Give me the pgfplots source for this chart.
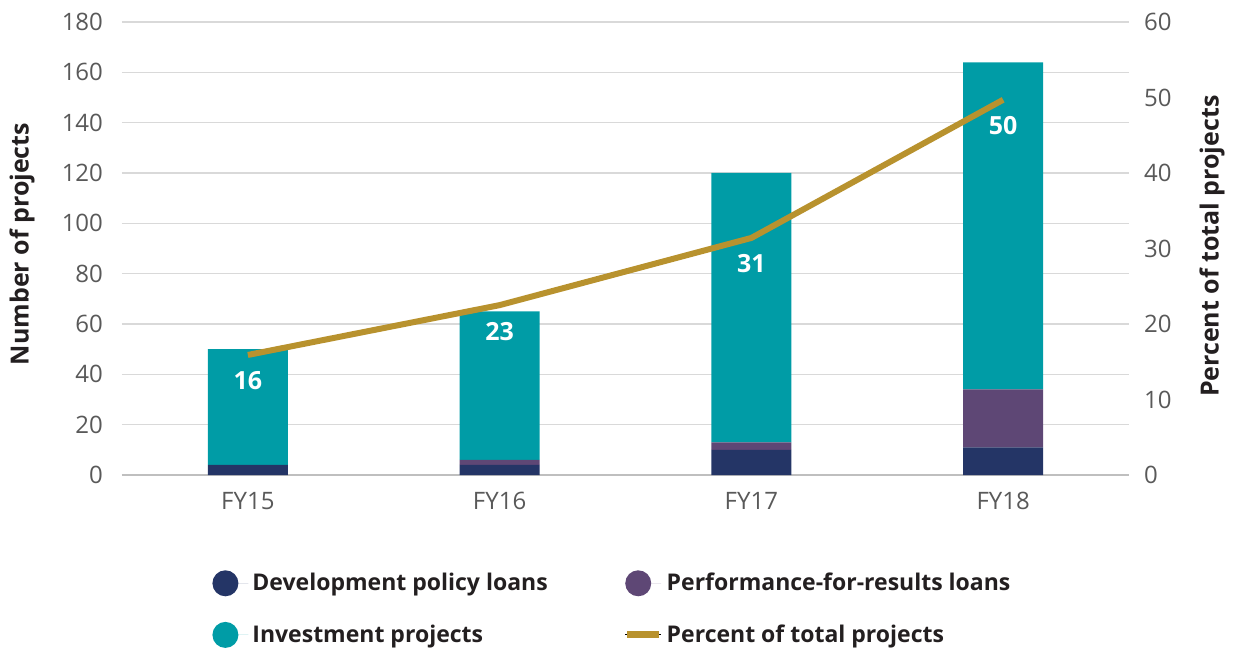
\documentclass[border=0pt]{standalone}
\usepackage{pgfplots}
\pgfplotsset{compat=1.18}
\usepackage{fontspec}
\setmainfont{Open Sans}
\definecolor{navy}{HTML}{243566}
\definecolor{plum}{HTML}{5E4775}
\definecolor{teal}{HTML}{009CA6}
\definecolor{gold}{HTML}{B8922E}
\definecolor{tickgray}{HTML}{595959}
\definecolor{txt}{HTML}{231F20}
\begin{document}
\begin{tikzpicture}
\begin{axis}[
  name=ax,
  scale only axis, width=503.5pt, height=226.5pt,
  xmin=-0.5, xmax=3.5, ymin=0, ymax=180,
  ybar stacked, bar width=40pt,
  xtick={0,1,2,3}, xticklabels={FY15,FY16,FY17,FY18},
  ytick={0,20,...,180},
  axis x line*=bottom, axis y line*=left,
  y axis line style={draw=none},
  x axis line style={draw=black!25, line width=1pt},
  major tick length=0pt,
  ymajorgrids, grid style={draw=black!15, line width=0.75pt},
  tick label style={font=\fontsize{12}{14}\selectfont, text=tickgray},
  /pgf/number format/assume math mode=true,
  yticklabel style={xshift=-6pt},
  xticklabel style={yshift=-5pt},
  ylabel={Number of projects},
  ylabel style={at={(axis description cs:-0.0993,0.51)}, anchor=center, rotate=0, font=\fontsize{12.5}{14}\bfseries, text=txt},
  legend columns=2,
  legend cell align=left,
  legend style={draw=none, fill=none, at={(axis description cs:0.0894,-0.2066)}, anchor=north west,
    font=\fontsize{11.5}{14}\bfseries, text=txt, inner sep=0pt,
    /tikz/every even column/.append style={column sep=36pt},
    /tikz/row sep=11.5pt},
]
\addplot[fill=navy, draw=none, legend image code/.code={\path (0pt,0pt) -- (18pt,0pt);\fill[navy] (6.5pt,0pt) circle (6.5pt);}]
  coordinates {(0,4) (1,4) (2,10) (3,11)};
\addlegendentry{Development policy loans}
\addplot[fill=plum, draw=none, legend image code/.code={\path (0pt,0pt) -- (18pt,0pt);\fill[plum] (6.5pt,0pt) circle (6.5pt);}]
  coordinates {(0,0) (1,2) (2,3) (3,23)};
\addlegendentry{Performance-for-results loans}
\addplot[fill=teal, draw=none, legend image code/.code={\path (0pt,0pt) -- (18pt,0pt);\fill[teal] (6.5pt,0pt) circle (6.5pt);}]
  coordinates {(0,46) (1,59) (2,107) (3,130)};
\addlegendentry{Investment projects}
\addlegendimage{legend image code/.code={\path (0pt,0pt) -- (18pt,0pt);\draw[gold, line width=3.5pt] (1pt,0pt) -- (17pt,0pt);}}
\addlegendentry{Percent of total projects}
\end{axis}
\begin{axis}[
  scale only axis, width=503.5pt, height=226.5pt,
  xmin=-0.5, xmax=3.5, ymin=0, ymax=60,
  ytick={0,10,...,60},
  axis x line=none, axis y line*=right,
  y axis line style={draw=none},
  major tick length=0pt,
  tick label style={font=\fontsize{12}{14}\selectfont, text=tickgray},
  /pgf/number format/assume math mode=true,
  yticklabel style={xshift=4pt},
  ylabel={Percent of total projects},
  ylabel style={at={(axis description cs:1.0824,0.505)}, anchor=center, rotate=0, font=\fontsize{12.5}{14}\bfseries, text=txt},
]
\addplot[gold, line width=3pt, mark=none,
  nodes near coords, point meta=explicit symbolic,
  every node near coord/.append style={anchor=center, yshift=-13pt, text=white, font=\fontsize{12.5}{14}\bfseries}]
  coordinates {(0,15.9) [16] (1,22.5) [23] (2,31.4) [31] (3,49.7) [50]};
\end{axis}
\pgfresetboundingbox
\path ([shift={(-61pt,-86pt)}]ax.south west) rectangle ([shift={(52pt,11pt)}]ax.north east);
\end{tikzpicture}
\end{document}
